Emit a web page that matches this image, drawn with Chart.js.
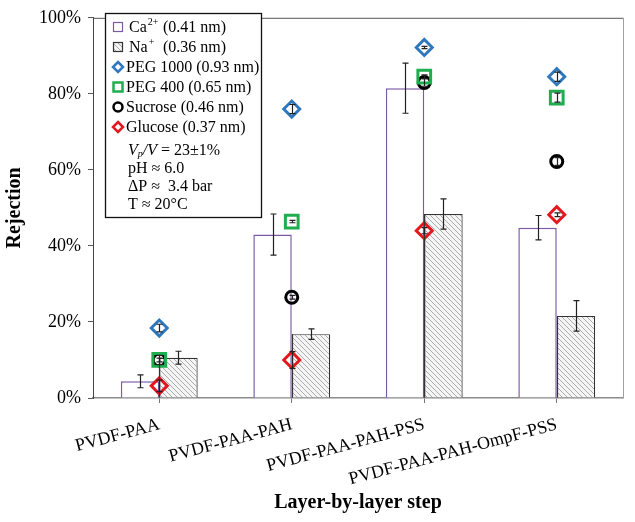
<!DOCTYPE html>
<html>
<head>
<meta charset="utf-8">
<script src="https://cdn.jsdelivr.net/npm/chart.js@4.4.1/dist/chart.umd.min.js"></script>
<style>
    html, body { margin: 0; padding: 0; background: #fff; }
    #wrap { width: 635px; height: 522px; position: relative; }
</style>
</head>
<body>
<div id="wrap"><canvas id="rejectionChart"></canvas></div>
<script>
// Categories (layer-by-layer steps)
const steps = ['PVDF-PAA', 'PVDF-PAA-PAH', 'PVDF-PAA-PAH-PSS', 'PVDF-PAA-PAH-OmpF-PSS'];

// Salt rejection bars (%)
const caRejection = [4.4, 43.0, 81.5, 44.8];
const caError = [1.7, 5.4, 6.6, 3.2];
const naRejection = [10.6, 16.8, 48.4, 21.6];
const naError = [1.7, 1.4, 4.0, 4.0];

// Neutral solute rejection markers (%)
const peg1000Rejection = [18.4, 76.0, 92.2, 84.5];
const peg1000Error = [1.0, 1.2, 0.3, 1.2];
const peg400Rejection = [10.0, 46.4, 84.5, 79.0];
const peg400Error = [0.5, 0.3, 0.5, 1.2];
const sucroseRejection = [10.0, 26.5, 83.0, 62.2];
const sucroseError = [1.2, 0.5, 1.0, 1.0];
const glucoseRejection = [3.2, 10.0, 44.0, 48.2];
const glucoseError = [1.5, 2.2, 0.8, 0.5];

const yTicks = [0, 20, 40, 60, 80, 100];

const SERIF = '"Liberation Serif", "Times New Roman", serif';
const PURPLE = '#7a5aa6';
const BLUE = '#2f78bd';
const GREEN = '#1fae4f';
const RED = '#e3181e';

function makeHatch() {
    const c = document.createElement('canvas');
    c.width = 5;
    c.height = 5;
    const g = c.getContext('2d');
    g.fillStyle = '#f5f5f5';
    g.fillRect(0, 0, 5, 5);
    g.strokeStyle = '#a3a3a3';
    g.lineWidth = 0.9;
    g.beginPath();
    g.moveTo(-1, -1); g.lineTo(6, 6);
    g.moveTo(-1, 4); g.lineTo(1, 6);
    g.moveTo(4, -1); g.lineTo(6, 1);
    g.stroke();
    return g.createPattern(c, 'repeat');
}
const hatch = makeHatch();

// error bars for every dataset, drawn through the chart scales
const errorSets = [caError, naError, peg1000Error, peg400Error, sucroseError, glucoseError];

const errorBarPlugin = {
    id: 'errorBars',
    afterDatasetsDraw(chart) {
        const ctx = chart.ctx;
        const y = chart.scales.y;
        ctx.save();

        // the Na+ bar's left edge sits over the Ca2+ bar's right edge
        ctx.strokeStyle = '#333';
        ctx.lineWidth = 1.2;
        chart.getDatasetMeta(1).data.forEach(el => {
            const x = Math.round(el.x - el.width / 2) + 0.5;
            ctx.beginPath();
            ctx.moveTo(x, el.y); ctx.lineTo(x, el.base);
            ctx.stroke();
        });

        ctx.strokeStyle = '#222';
        chart.data.datasets.forEach((ds, i) => {
            const meta = chart.getDatasetMeta(i);
            const errs = errorSets[i];
            meta.data.forEach((el, j) => {
                const v = ds.data[j];
                const e = errs[j];
                const x = Math.round(el.x) + 0.5;
                const yTop = y.getPixelForValue(v + e);
                const yBot = y.getPixelForValue(v - e);
                const cap = 3;
                ctx.beginPath();
                ctx.moveTo(x, yTop); ctx.lineTo(x, yBot);
                ctx.moveTo(x - cap, yTop); ctx.lineTo(x + cap, yTop);
                ctx.moveTo(x - cap, yBot); ctx.lineTo(x + cap, yBot);
                ctx.stroke();
            });
        });
        ctx.restore();
    }
};

function diamond(ctx, x, y, r) {
    ctx.beginPath();
    ctx.moveTo(x, y - r); ctx.lineTo(x + r, y); ctx.lineTo(x, y + r); ctx.lineTo(x - r, y);
    ctx.closePath();
}

// frame, axis titles and the boxed legend
const decorPlugin = {
    id: 'decor',
    afterDraw(chart) {
        const ctx = chart.ctx;
        const a = chart.chartArea;
        ctx.save();

        // top and right frame lines
        ctx.lineWidth = 1;
        ctx.strokeStyle = '#555';
        ctx.beginPath();
        ctx.moveTo(a.left, a.top + 0.5); ctx.lineTo(a.right, a.top + 0.5);
        ctx.stroke();
        ctx.strokeStyle = '#a0a0a0';
        ctx.beginPath();
        ctx.moveTo(a.right + 0.5, a.top); ctx.lineTo(a.right + 0.5, a.bottom);
        ctx.stroke();

        // axis titles
        ctx.fillStyle = '#000';
        ctx.font = 'bold 20px ' + SERIF;
        ctx.textAlign = 'center';
        ctx.textBaseline = 'middle';
        ctx.fillText('Layer-by-layer step', (a.left + a.right) / 2, 503);
        ctx.save();
        ctx.translate(15, (a.top + a.bottom) / 2);
        ctx.rotate(-Math.PI / 2);
        ctx.fillText('Rejection', 0, 0);
        ctx.restore();

        // legend box
        ctx.strokeStyle = '#111';
        ctx.lineWidth = 1.3;
        ctx.fillStyle = '#fff';
        ctx.fillRect(105, 13, 156, 204);
        ctx.strokeRect(105.5, 13.5, 156, 204);

        const mx = 118;
        const tx = 126;
        ctx.textAlign = 'left';
        ctx.textBaseline = 'middle';
        ctx.fillStyle = '#000';
        const f = '16px ' + SERIF;
        const fs = '10px ' + SERIF;

        // Ca2+
        ctx.strokeStyle = PURPLE;
        ctx.lineWidth = 1.2;
        ctx.strokeRect(mx - 4.5, 27 - 4.5, 9, 9);
        ctx.font = f;
        ctx.fillText('Ca', 129, 28);
        const caW = ctx.measureText('Ca').width;
        ctx.font = fs;
        ctx.fillText('2+', 129 + caW + 1, 22);
        ctx.font = f;
        ctx.fillText('(0.41 nm)', 163, 28);

        // Na+
        ctx.fillStyle = hatch;
        ctx.fillRect(mx - 4.5, 47 - 4.5, 9, 9);
        ctx.strokeStyle = '#333';
        ctx.strokeRect(mx - 4.5, 47 - 4.5, 9, 9);
        ctx.fillStyle = '#000';
        ctx.fillText('Na', 129, 48);
        const naW = ctx.measureText('Na').width;
        ctx.font = fs;
        ctx.fillText('+', 129 + naW + 1, 42);
        ctx.font = f;
        ctx.fillText('(0.36 nm)', 163, 48);

        // PEG 1000
        ctx.lineWidth = 2.5;
        ctx.strokeStyle = BLUE;
        diamond(ctx, mx, 67, 5);
        ctx.stroke();
        ctx.fillText('PEG 1000 (0.93 nm)', tx, 68);

        // PEG 400
        ctx.strokeStyle = GREEN;
        ctx.strokeRect(mx - 4.5, 87 - 4.5, 9, 9);
        ctx.fillText('PEG 400 (0.65 nm)', tx, 88);

        // Sucrose
        ctx.strokeStyle = '#000';
        ctx.beginPath();
        ctx.arc(mx, 107, 4.5, 0, Math.PI * 2);
        ctx.stroke();
        ctx.fillText('Sucrose (0.46 nm)', tx, 108);

        // Glucose
        ctx.strokeStyle = RED;
        diamond(ctx, mx, 127, 5);
        ctx.stroke();
        ctx.fillText('Glucose (0.37 nm)', tx, 128);

        // operating conditions
        let x = 128;
        ctx.font = 'italic 16px ' + SERIF;
        ctx.fillText('V', x, 151);
        x += ctx.measureText('V').width;
        ctx.font = 'italic 10px ' + SERIF;
        ctx.fillText('p', x, 154);
        x += ctx.measureText('p').width;
        ctx.font = 'italic 16px ' + SERIF;
        ctx.fillText('/V', x, 151);
        x += ctx.measureText('/V').width;
        ctx.font = f;
        ctx.fillText(' = 23\u00b11%', x, 151);
        ctx.fillText('pH \u2248 6.0', 128, 169);
        ctx.fillText('\u0394P \u2248  3.4 bar', 128, 187);
        ctx.fillText('T \u2248 20\u00b0C', 128, 205);

        ctx.restore();
    }
};

function markerSet(label, data, style, color, radius) {
    return {
        type: 'line',
        label: label,
        data: data,
        showLine: false,
        pointStyle: style,
        pointRadius: radius,
        pointHoverRadius: radius,
        pointBorderWidth: 3,
        pointBorderColor: color,
        pointBackgroundColor: 'rgba(255,255,255,0)',
        order: 1
    };
}

new Chart(document.getElementById('rejectionChart'), {
    type: 'bar',
    data: {
        labels: steps,
        datasets: [
            {
                label: 'Ca2+ (0.41 nm)',
                data: caRejection,
                backgroundColor: '#ffffff',
                borderColor: PURPLE,
                borderWidth: 1.5,
                categoryPercentage: 0.58,
                barPercentage: 1.0,
                order: 2
            },
            {
                label: 'Na+ (0.36 nm)',
                data: naRejection,
                backgroundColor: hatch,
                borderColor: '#333333',
                borderWidth: 1.2,
                categoryPercentage: 0.58,
                barPercentage: 1.0,
                order: 3
            },
            markerSet('PEG 1000 (0.93 nm)', peg1000Rejection, 'rectRot', BLUE, 8),
            markerSet('PEG 400 (0.65 nm)', peg400Rejection, 'rect', GREEN, 9),
            markerSet('Sucrose (0.46 nm)', sucroseRejection, 'circle', '#000000', 6),
            markerSet('Glucose (0.37 nm)', glucoseRejection, 'rectRot', RED, 8)
        ]
    },
    options: {
        responsive: true,
        maintainAspectRatio: false,
        animation: false,
        layout: { padding: { top: 11, right: 5, left: 0, bottom: 0 } },
        plugins: {
            legend: { display: false },
            tooltip: { enabled: false }
        },
        scales: {
            x: {
                grid: { drawOnChartArea: false, offset: false, tickLength: 5, color: '#777' },
                border: { color: '#8a8a8a', width: 1.5 },
                ticks: {
                    color: '#000',
                    font: { family: SERIF, size: 18 },
                    minRotation: 15,
                    maxRotation: 15,
                    autoSkip: false,
                    padding: 11
                },
                afterFit(scale) { scale.height = 124; }
            },
            y: {
                min: 0,
                max: 100,
                afterBuildTicks(scale) { scale.ticks = yTicks.map(v => ({ value: v })); },
                grid: { drawOnChartArea: false, tickLength: 5, color: '#555' },
                border: { color: '#444', width: 1 },
                ticks: {
                    color: '#000',
                    font: { family: SERIF, size: 18 },
                    padding: 7,
                    callback: v => v + '%'
                },
                afterFit(scale) { scale.width = 93; }
            }
        }
    },
    plugins: [errorBarPlugin, decorPlugin]
});
</script>
</body>
</html>
